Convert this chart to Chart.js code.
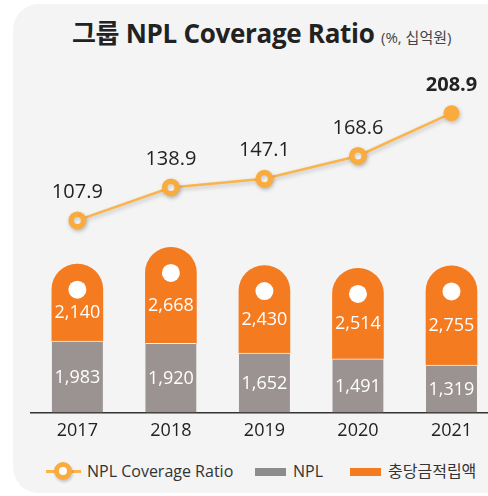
<!DOCTYPE html>
<html><head><meta charset="utf-8">
<script src="https://cdn.jsdelivr.net/npm/chart.js@4.4.1/dist/chart.umd.min.js"></script>
<style>
html,body{margin:0;padding:0;background:#fff;width:488px;height:496px;overflow:hidden;font-family:'Open Sans','Noto Sans CJK KR',sans-serif}
#panel{position:absolute;left:13px;top:4px;width:500px;height:489px;background:#f4f4f4;border-radius:26px}
#title{position:absolute;left:72px;top:13px;white-space:nowrap;font-size:26px;font-weight:700;color:#222;letter-spacing:-0.3px}
#title small{font-size:15px;font-weight:400;color:#444;letter-spacing:0}
#wrap{position:absolute;left:0;top:0;width:510px;height:450px}
.lg{position:absolute;top:460px;height:22px;line-height:22px;font-size:16px;color:#333;white-space:nowrap}
.sw{position:absolute;top:8px;width:31px;height:8px}
</style>
</head><body>
<div id="panel"></div>
<div id="title">그룹 NPL Coverage Ratio <small>(%, 십억원)</small></div>
<div id="wrap"><canvas id="c" width="510" height="450"></canvas></div>
<div class="lg" style="left:46px;width:200px">
  <span style="position:absolute;left:0;top:10px;width:35px;height:2.5px;background:#fbb44c"></span>
  <span style="position:absolute;left:8px;top:2px;width:8px;height:8px;border:5px solid #f9ac3d;border-radius:50%;background:#fff;box-shadow:1px 2px 3px rgba(0,0,0,.2)"></span>
  <span style="position:absolute;left:41px">NPL Coverage Ratio</span>
</div>
<div class="lg" style="left:255px;width:80px">
  <span class="sw" style="left:0;background:#8c8c8c"></span>
  <span style="position:absolute;left:38px">NPL</span>
</div>
<div class="lg" style="left:350px;width:130px">
  <span class="sw" style="left:0;background:#f47b20"></span>
  <span style="position:absolute;left:38px">충당금적립액</span>
</div>
<script>
const years=['2017','2018','2019','2020','2021'];
const npl=[1983,1920,1652,1491,1319];
const reserve=[2140,2668,2430,2514,2755];
const ratio=[107.9,138.9,147.1,168.6,208.9];

const fmt=v=>v.toLocaleString('en-US');
const FONT="'Open Sans','Noto Sans CJK KR',sans-serif";

const shadowPlugin={id:'shadow',
  beforeDatasetDraw(chart,args){if(args.index!==0)return;const c=chart.ctx;c.save();c.shadowColor='rgba(0,0,0,0.22)';c.shadowBlur=4;c.shadowOffsetX=1;c.shadowOffsetY=2;},
  afterDatasetDraw(chart,args){if(args.index!==0)return;chart.ctx.restore();}
};

const labelPlugin={id:'labels',afterDatasetsDraw(chart){
  const ctx=chart.ctx;
  const mL=chart.getDatasetMeta(0),mN=chart.getDatasetMeta(1),mR=chart.getDatasetMeta(2);
  ctx.save();ctx.textAlign='center';ctx.textBaseline='middle';
  mR.data.forEach((bar,i)=>{
    const r=bar.width/2,cy=bar.y+r;
    ctx.fillStyle='#fff';ctx.beginPath();ctx.arc(bar.x,cy,9,0,Math.PI*2);ctx.fill();
    ctx.font=`18px ${FONT}`;
    ctx.fillText(fmt(reserve[i]),bar.x,(cy+bar.base)/2-2);
  });
  mN.data.forEach((bar,i)=>{ctx.fillText(fmt(npl[i]),bar.x,(bar.y+bar.base)/2+1);});
  ctx.fillStyle='#222';
  mL.data.forEach((pt,i)=>{
    const last=i===ratio.length-1;
    ctx.font=`${last?'bold ':''}20px ${FONT}`;
    ctx.fillText(ratio[i].toFixed(1),pt.x,pt.y-28);
  });
  ctx.restore();
}};

new Chart(document.getElementById('c'),{
  data:{labels:years,datasets:[
    {type:'line',label:'NPL Coverage Ratio',data:ratio,yAxisID:'y2',order:0,
     borderColor:'#fbb44c',borderWidth:2.5,
     pointRadius:[6.25,6.25,6.25,6.25,8],pointBorderWidth:[5.5,5.5,5.5,5.5,0],
     pointBackgroundColor:['#fff','#fff','#fff','#fff','#f9ac3d'],pointBorderColor:'#f9ac3d'},
    {type:'bar',label:'NPL',data:npl,stack:'s',order:1,backgroundColor:'#9b9391',
     barThickness:51,borderWidth:{top:1,left:0,right:0,bottom:0},borderColor:'#f4f4f4'},
    {type:'bar',label:'충당금적립액',data:reserve,stack:'s',order:1,backgroundColor:'#f47b20',
     barThickness:51,borderWidth:0,borderSkipped:false,
     borderRadius:{topLeft:25.5,topRight:25.5,bottomLeft:0,bottomRight:0}}
  ]},
  options:{
    responsive:false,animation:false,
    layout:{padding:{top:60,left:30.6,right:10.6,bottom:0}},
    plugins:{legend:{display:false},tooltip:{enabled:false}},
    scales:{
      x:{stacked:true,grid:{display:false,drawTicks:false},border:{display:true,color:'#333',width:1.5},
         ticks:{color:'#222',font:{size:18,family:FONT},padding:8}},
      y:{stacked:true,display:false,min:0,max:9800},
      y2:{display:false,min:-73,max:259}
    }
  },
  plugins:[shadowPlugin,labelPlugin]
});
</script>
</body></html>
